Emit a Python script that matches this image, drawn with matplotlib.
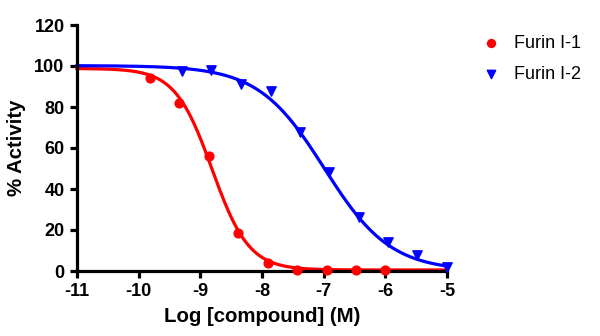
import numpy as np
import matplotlib.pyplot as plt

plt.rcParams['font.family'] = ['Liberation Sans', 'DejaVu Sans']

# Furin I-1 (3-fold dilutions from 1 uM)
log_conc_1 = [-9.82, -9.34, -8.86, -8.39, -7.91, -7.43, -6.95, -6.48, -6.0]
activity_1 = [94.0, 82.0, 56.0, 18.7, 4.0, 0.7, 0.5, 0.5, 0.5]

# Furin I-2 (3-fold dilutions from 10 uM)
log_conc_2 = [-9.29, -8.82, -8.34, -7.86, -7.39, -6.91, -6.43, -5.95, -5.48, -5.0]
activity_2 = [97.5, 98.0, 91.0, 88.0, 68.0, 48.4, 26.5, 14.3, 7.8, 2.1]

# fitted 4PL parameters (top, bottom, logIC50, hill slope)
fit_1 = (98.8, 0.5, -8.81, 1.45)
fit_2 = (100.2, 0.0, -6.99, 0.81)

labels = ["Furin I-1", "Furin I-2"]
x_ticks = [-11, -10, -9, -8, -7, -6, -5]
y_ticks = [0, 20, 40, 60, 80, 100, 120]


def hill(x, top, bottom, logic50, slope):
    return bottom + (top - bottom) / (1 + 10 ** ((x - logic50) * slope))


fig = plt.figure(figsize=(6, 3.36), dpi=100)
ax = fig.add_axes([77 / 600, 1 - 271 / 336, 370 / 600, 246 / 336])

xs = np.linspace(-11, -5, 400)
ax.plot(xs, hill(xs, *fit_1), color="#ff0000", lw=2.3, zorder=2, clip_on=False)
ax.plot(xs, hill(xs, *fit_2), color="#0000ff", lw=2.3, zorder=2, clip_on=False)
ax.scatter(log_conc_1, activity_1, color="#ff0000", marker="o", s=40, zorder=3,
           label=labels[0], clip_on=False)
ax.scatter(log_conc_2, activity_2, color="#0000ff", marker="v", s=45, zorder=3,
           label=labels[1], clip_on=False)

ax.set_xlim(-11, -5)
ax.set_ylim(0, 120)
ax.set_xticks(x_ticks)
ax.set_yticks(y_ticks)
ax.set_xticklabels([str(t) for t in x_ticks])
for s in ["top", "right"]:
    ax.spines[s].set_visible(False)
for s in ["left", "bottom"]:
    ax.spines[s].set_linewidth(2.3)
ax.tick_params(width=2.3, length=5, labelsize=13, pad=4)
for lab in ax.get_xticklabels() + ax.get_yticklabels():
    lab.set_fontweight("bold")

ax.set_xlabel("Log [compound] (M)", fontsize=14.7, fontweight="bold", labelpad=5)
ax.set_ylabel("% Activity", fontsize=14.7, fontweight="bold", labelpad=6)

ax.legend(loc="upper left", bbox_to_anchor=(1.05, 1.025), frameon=False,
          fontsize=13, handlelength=1.0, handletextpad=0.8, labelspacing=0.75,
          markerscale=0.9)

fig.savefig("out.png", dpi=100)
